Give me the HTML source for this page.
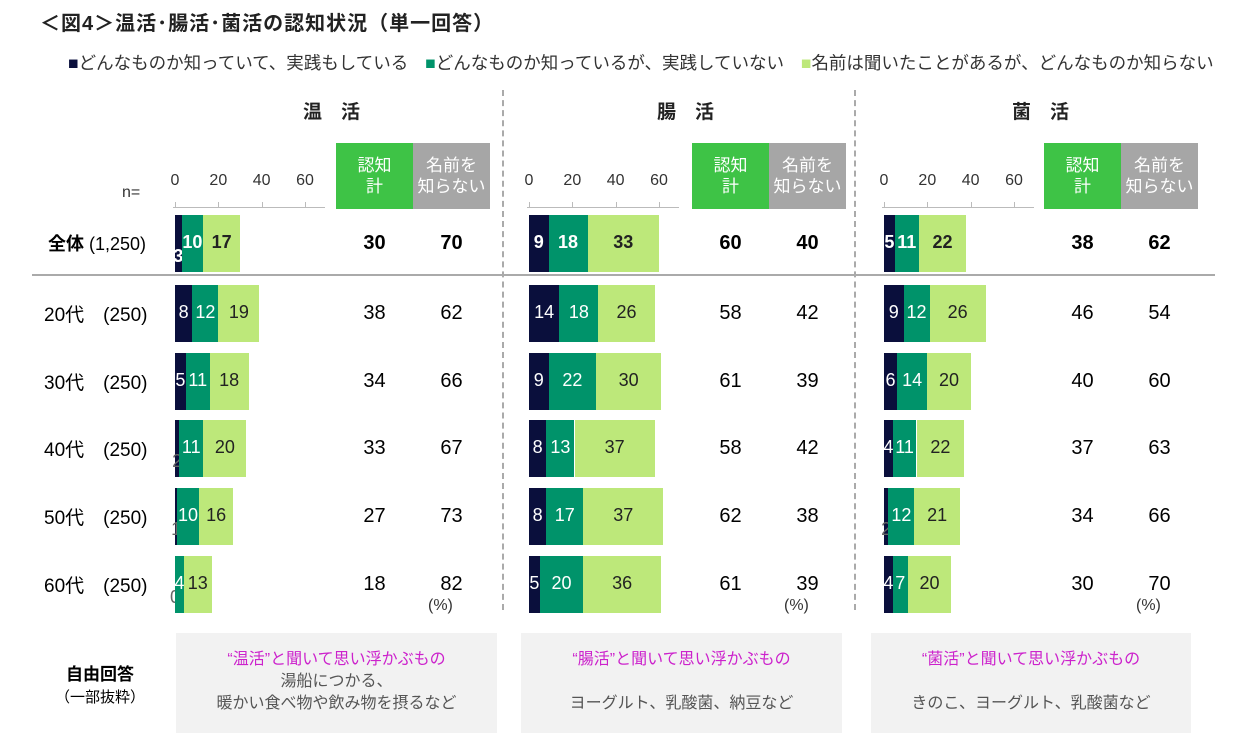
<!DOCTYPE html>
<html><head><meta charset="utf-8">
<style>
body{margin:0;width:1244px;height:733px;background:#fff;font-family:"Liberation Sans","Noto Sans CJK JP",sans-serif;position:relative;overflow:hidden;color:#000}
.a{position:absolute;white-space:nowrap}
.c{text-align:center}
</style></head><body>
<div class="a" style="left:40px;top:7px;font-size:20px;font-weight:bold;color:#222;letter-spacing:1px">＜図4＞温活･腸活･菌活の認知状況（単一回答）</div>
<div class="a" style="left:68px;top:50px;font-size:17.5px;color:#333">
<span><span style="color:#0a0f3c">■</span>どんなものか知っていて、実践もしている</span>
<span style="margin-left:12px"><span style="color:#00936a">■</span>どんなものか知っているが、実践していない</span>
<span style="margin-left:12px"><span style="color:#bde87a">■</span>名前は聞いたことがあるが、どんなものか知らない</span>
</div>
<div class="a" style="left:122px;top:184px;font-size:16px;color:#333">n=</div>
<div class="a" style="left:32px;top:274px;width:1183px;height:2px;background:#aaa"></div>
<div class="a" style="left:502px;top:90px;height:520px;border-left:2px dashed #aaa"></div>
<div class="a" style="left:854px;top:90px;height:520px;border-left:2px dashed #aaa"></div>
<div class="a" style="left:40px;top:664px;width:120px;text-align:center;font-size:17px;line-height:22px"><b>自由回答</b><br><span style="font-size:15px">（一部抜粋）</span></div>
<div id="root"></div>
<script>
const rowLabels=["全体","20代","30代","40代","50代","60代"];
const rowN=["(1,250)","(250)","(250)","(250)","(250)","(250)"];
const panels=["温　活","腸　活","菌　活"];
const practice=[[3,8,5,2,1,0],[9,14,9,8,8,5],[5,9,6,4,2,4]];
const know=[[10,12,11,11,10,4],[18,18,22,13,17,20],[11,12,14,11,12,7]];
const heard=[[17,19,18,20,16,13],[33,26,30,37,37,36],[22,26,20,22,21,20]];
const ninchi=[[30,38,34,33,27,18],[60,58,61,58,62,61],[38,46,40,37,34,30]];
const unknown=[[70,62,66,67,73,82],[40,42,39,42,38,39],[62,54,60,63,66,70]];
const ticks=[0,20,40,60];
const freeTitle=["“温活”と聞いて思い浮かぶもの","“腸活”と聞いて思い浮かぶもの","“菌活”と聞いて思い浮かぶもの"];
const freeText=["湯船につかる、<br>暖かい食べ物や飲み物を摂るなど","<br>ヨーグルト、乳酸菌、納豆など","<br>きのこ、ヨーグルト、乳酸菌など"];

const root=document.getElementById('root');
const px0=[175,529,884], boxX=[336,692,1044], freeX=[176,521,871], freeW=[321,321,320];
const rowY=[243,313,381,448,516,584];
const unit=130/60, bh=57;
function el(style,html){const d=document.createElement('div');d.className='a';d.style.cssText=style;if(html!==undefined)d.innerHTML=html;root.appendChild(d);return d;}
rowLabels.forEach((l,i)=>{
  const d=el(`left:${i?44:48}px;top:${rowY[i]-13}px;font-size:${i?19:18}px`, i?`${l}　${rowN[i]}`:`<b>${l}</b> <span style="font-size:18px">${rowN[i]}</span>`);
  
  
});
panels.forEach((p,k)=>{
  const x0=px0[k];const x=v=>x0+v*unit;
  let d=el(`left:${x0+128}px;top:97px;font-size:19px;font-weight:bold;color:#222`,p);
  
  
  d=el(`left:${x0-2}px;top:207px;width:${x(70)-x0}px;height:1px;background:#bbb`);
  
  
  ticks.forEach(t=>{
    let tk=el(`left:${x(t)-20}px;top:172px;width:40px;text-align:center;font-size:16px;color:#333`,t);
    
    
    let tm=el(`left:${x(t)}px;top:202px;width:1px;height:5px;background:#bbb`);
    
    
  });
  d=el(`left:${boxX[k]}px;top:143px;width:77px;height:66px;background:#3ec346;color:#fff;font-size:17px;line-height:21px;display:flex;align-items:center;justify-content:center;text-align:center`,'認知<br>計');
  
  
  d=el(`left:${boxX[k]+77}px;top:143px;width:77px;height:66px;background:#a6a6a6;color:#fff;font-size:17px;line-height:21px;display:flex;align-items:center;justify-content:center;text-align:center`,'名前を<br>知らない');
  
  
  rowLabels.forEach((_,i)=>{
    const bold=i===0?'font-weight:bold;':'';
    const segs=[[practice[k][i],'#0a0f3c','#fff'],[know[k][i],'#00936a','#fff'],[heard[k][i],'#bde87a','#222']];
    let acc=0;
    segs.forEach((s,j)=>{
      const w=s[0]*unit;
      const b=el(`left:${x(acc)}px;top:${rowY[i]-bh/2}px;width:${w}px;height:${bh}px;background:${s[1]}`);
      
      
      const small=s[0]<4;
      const lab=el(`left:${x(acc)+w/2-20}px;top:${rowY[i]-11+(small?14:0)}px;width:40px;text-align:center;font-size:18px;${bold}color:${small&&j===0&&s[0]<3?'#666':s[2]}`,s[0]);
      
      
      acc+=s[0];
    });
    let n=el(`left:${boxX[k]}px;top:${rowY[i]-11}px;width:77px;text-align:center;font-size:20px;${bold}`,ninchi[k][i]);
    
    
    n=el(`left:${boxX[k]+77}px;top:${rowY[i]-11}px;width:77px;text-align:center;font-size:20px;${bold}`,unknown[k][i]);
    
    
  });
  d=el(`left:${boxX[k]+92}px;top:597px;font-size:16px;color:#333`,'(%)');
  
  
  d=el(`left:${freeX[k]}px;top:633px;width:${freeW[k]}px;height:100px;background:#f2f2f2;text-align:center;font-size:16px;line-height:22px;color:#555;padding-top:16px;box-sizing:border-box`,`<span style="color:#cc22cc">${freeTitle[k]}</span><br>${freeText[k]}`);
  
  
});
</script>
</body></html>
